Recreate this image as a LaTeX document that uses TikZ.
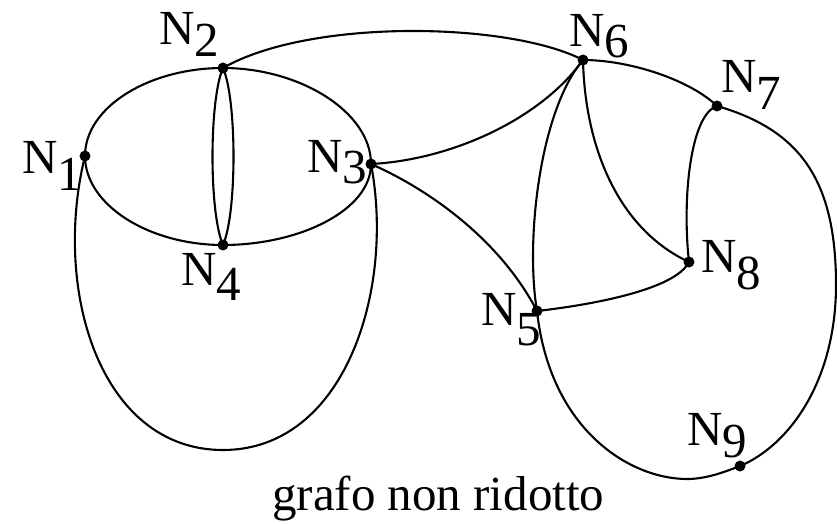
\documentclass[tikz,border=0pt]{standalone}
\usepackage{fontspec}
\setmainfont{Liberation Serif}
\tikzset{
  vdot/.style={circle, fill=black, inner sep=0pt, minimum size=11pt},
  lab/.style={anchor=base west, inner sep=0pt, font=\fontsize{49}{59}\selectfont},
  edge/.style={line width=2.1pt}
}
\newcommand\Nlab[2]{N\raisebox{-#2pt}{#1}}
\begin{document}
\begin{tikzpicture}[x=1pt, y=-1pt]
\useasboundingbox (0,0) rectangle (837,524);
% vertices
\node[vdot] (n1) at (85,156) {};
\node[vdot] (n2) at (223,68) {};
\node[vdot] (n3) at (371,164) {};
\node[vdot] (n4) at (223,245) {};
\node[vdot] (n5) at (537,311) {};
\node[vdot] (n6) at (583,60) {};
\node[vdot] (n7) at (717,106) {};
\node[vdot] (n8) at (689,262) {};
\node[vdot] (n9) at (740,466) {};
\coordinate (b13) at (223,450);
\coordinate (r79) at (836,285);
\coordinate (b95) at (687,479);
% labels
\node[lab] (l1) at (22,173) {\Nlab{1}{17}};
\node[lab] (l2) at (159,45) {\Nlab{2}{12}};
\node[lab] (l3) at (307,172) {\Nlab{3}{11}};
\node[lab] (l4) at (181,285) {\Nlab{4}{15}};
\node[lab] (l5) at (481,325) {\Nlab{5}{20}};
\node[lab] (l6) at (569,47) {\Nlab{6}{11}};
\node[lab] (l7) at (721,93) {\Nlab{7}{17}};
\node[lab] (l8) at (701,272) {\Nlab{8}{17}};
\node[lab] (l9) at (687,445) {\Nlab{9}{12}};
\node[lab] (cap) at (272,510) {grafo non ridotto};
% edges
\begin{scope}[edge]
\draw (n1.center) .. controls (85,107) and (149,68) .. (n2.center);
\draw (n2.center) .. controls (300,68) and (371,112) .. (n3.center);
\draw (n3.center) .. controls (371,210) and (300,245) .. (n4.center);
\draw (n4.center) .. controls (149,245) and (85,205) .. (n1.center);
\draw (n2.center) .. controls (209,100) and (209,213) .. (n4.center);
\draw (n2.center) .. controls (237,100) and (237,213) .. (n4.center);
\draw (n1.center) .. controls (52,290) and (100,450) .. (b13)
                  .. controls (345,450) and (395,290) .. (n3.center);
\draw (n2.center) .. controls (310,18) and (510,22) .. (n6.center);
\draw (n3.center) .. controls (450,160) and (540,120) .. (n6.center);
\draw (n3.center) .. controls (430,190) and (500,240) .. (n5.center);
\draw (n6.center) .. controls (540,110) and (525,240) .. (n5.center);
\draw (n6.center) .. controls (585,150) and (620,230) .. (n8.center);
\draw (n6.center) .. controls (630,60) and (690,80) .. (n7.center);
\draw (n7.center) .. controls (690,115) and (682,200) .. (n8.center);
\draw (n8.center) .. controls (675,290) and (590,305) .. (n5.center);
\draw (n7.center) .. controls (800,130) and (836,180) .. (r79)
                  .. controls (836,380) and (790,445) .. (n9.center);
\draw (n9.center) .. controls (722,473) and (705,479) .. (b95)
                  .. controls (630,479) and (550,430) .. (n5.center);
\end{scope}
\end{tikzpicture}
\end{document}
